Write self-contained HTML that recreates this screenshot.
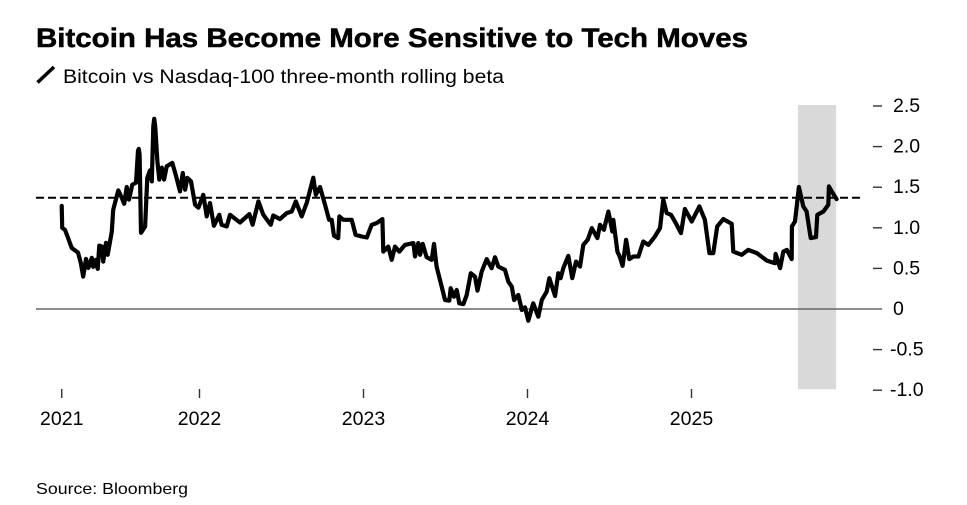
<!DOCTYPE html>
<html>
<head>
<meta charset="utf-8">
<style>
html,body{margin:0;padding:0;background:#fff;}
svg{display:block;font-family:"Liberation Sans",sans-serif;}
</style>
</head>
<body>
<svg id="chart" width="967" height="505" viewBox="0 0 967 505" xmlns="http://www.w3.org/2000/svg">
<rect width="967" height="505" fill="#fff"/>
<text x="36" y="47" font-size="27" font-weight="700" fill="#000" stroke="#000" stroke-width="0.5" textLength="712" lengthAdjust="spacingAndGlyphs">Bitcoin Has Become More Sensitive to Tech Moves</text>
<line x1="37.5" y1="82.5" x2="54" y2="67" stroke="#000" stroke-width="3.6"/>
<text x="63" y="83" font-size="19" fill="#000" textLength="441" lengthAdjust="spacingAndGlyphs">Bitcoin vs Nasdaq-100 three-month rolling beta</text>
<g id="plot"></g>
<text x="36" y="494" font-size="16" fill="#000" textLength="152" lengthAdjust="spacingAndGlyphs">Source: Bloomberg</text>
</svg>
<script>
const yearsSince2021 = [
0.160,0.163,0.180,0.198,0.221,0.259,0.276,0.291,0.308,0.322,0.343,0.352,0.367,0.379,0.389,0.404,0.413,0.430,0.440,0.465,
0.474,0.505,0.526,0.541,0.556,0.570,0.590,0.613,0.625,0.630,0.635,0.643,0.668,0.682,0.698,0.709,0.718,0.724,0.730,0.743,0.755,0.770,0.784,0.800,
0.834,0.855,0.881,0.898,0.912,0.926,0.948,0.973,0.993,1.023,1.044,1.064,1.088,1.121,1.135,1.166,1.186,1.247,1.304,1.324,
1.359,1.389,1.434,1.450,1.491,1.532,1.562,1.587,1.623,1.654,1.694,1.709,1.735,1.765,1.790,1.806,1.820,1.846,1.853,1.877,
1.928,1.952,1.989,2.020,2.050,2.080,2.115,2.121,2.151,2.172,2.192,2.218,2.253,2.304,2.314,2.334,2.345,2.361,2.385,2.416,
2.430,2.446,2.477,2.497,2.523,2.532,2.552,2.568,2.584,2.609,2.629,2.654,2.680,2.695,2.721,2.751,2.782,2.802,2.822,2.863,
2.883,2.904,2.918,2.944,2.965,2.985,3.005,3.035,3.066,3.087,3.117,3.133,3.168,3.188,3.202,3.218,3.249,3.273,3.296,3.320,
3.340,3.367,3.392,3.426,3.442,3.466,3.493,3.517,3.523,3.548,3.564,3.580,3.601,3.621,3.645,3.676,3.706,3.737,3.777,3.808,
3.828,3.849,3.875,3.904,3.936,3.960,4.001,4.048,4.082,4.109,4.133,4.157,4.194,4.245,4.255,4.306,4.346,4.398,4.459,4.509,
4.513,4.540,4.560,4.581,4.611,4.612,4.631,4.655,4.682,4.702,4.727,4.759,4.767,4.804,4.834,4.838,4.861,4.885
];
const betaValues = [
1.27,1.00,0.975,0.877,0.753,0.695,0.568,0.399,0.617,0.506,0.630,0.519,0.605,0.494,0.781,0.769,0.584,0.815,0.667,0.954,
1.222,1.460,1.370,1.296,1.502,1.346,1.531,1.556,1.950,1.972,1.900,0.938,1.016,1.617,1.707,1.572,2.250,2.342,2.250,1.819,1.593,1.741,1.593,1.757,
1.799,1.654,1.448,1.675,1.469,1.614,1.572,1.284,1.247,1.407,1.140,1.305,1.025,1.160,1.037,1.016,1.160,1.065,1.169,1.037,
1.325,1.160,1.037,1.152,1.107,1.181,1.201,1.325,1.140,1.309,1.617,1.407,1.502,1.284,1.099,1.099,0.901,0.873,1.140,1.099,
1.099,0.914,0.893,0.880,1.037,1.058,1.107,0.707,0.769,0.605,0.769,0.707,0.790,0.811,0.646,0.811,0.667,0.802,0.638,0.605,
0.802,0.522,0.275,0.111,0.102,0.256,0.152,0.235,0.070,0.062,0.173,0.441,0.399,0.226,0.460,0.614,0.502,0.638,0.522,0.481,
0.337,0.275,0.111,0.173,-0.012,0.021,-0.144,0.070,-0.095,0.111,0.214,0.379,0.160,0.441,0.379,0.502,0.654,0.379,0.584,0.522,
0.790,0.852,0.996,0.873,1.037,0.975,1.201,0.954,1.099,0.707,0.638,0.531,0.852,0.614,0.646,0.646,0.831,0.790,0.893,0.996,
1.346,1.181,1.160,1.058,0.935,1.231,1.078,1.263,1.099,0.688,0.688,1.016,1.107,1.049,0.707,0.667,0.728,0.688,0.596,0.564,
0.679,0.502,0.707,0.728,0.614,1.016,1.078,1.502,1.263,1.201,0.873,0.885,1.160,1.201,1.284,1.510,1.428,1.354
];
const xTickYears = [0.160,1,2,3,4];
const xTickLabels = ["2021","2022","2023","2024","2025"];
const yTickValues = [2.5,2.0,1.5,1.0,0.5,0,-0.5,-1.0];
const yTickLabels = ["2.5","2.0","1.5","1.0","0.5","0","-0.5","-1.0"];
const referenceBeta = 1.37;
const shadedRange = [4.655,4.882];

const SVGNS = "http://www.w3.org/2000/svg";
const plot = document.getElementById("plot");
const xScale = function (t) { return 199.5 + (t - 1) * 164; };
const yScale = function (v) { return 309 - v * 81.2; };

function make(tag, attrs, parent) {
  const el = document.createElementNS(SVGNS, tag);
  for (const k in attrs) el.setAttribute(k, attrs[k]);
  parent.appendChild(el);
  return el;
}

const band = make("rect", {
  x: xScale(shadedRange[0]) - 1,
  y: yScale(2.5) - 1,
  width: xScale(shadedRange[1]) - xScale(shadedRange[0]) + 1,
  height: yScale(-1) - yScale(2.5),
  fill: "#d9d9d9"
}, plot);



const zeroLine = make("line", {
  x1: 36, x2: 882, y1: yScale(0), y2: yScale(0),
  stroke: "#666", "stroke-width": 1.6
}, plot);



const refLine = make("line", {
  x1: 36, x2: 862, y1: yScale(referenceBeta), y2: yScale(referenceBeta),
  stroke: "#000", "stroke-width": 2, "stroke-dasharray": "8 4"
}, plot);



yTickValues.forEach(function (v, i) {
  const y = yScale(v);
  if (v !== 0) {
    const t = make("line", { x1: 873, x2: 882, y1: y, y2: y, stroke: "#333", "stroke-width": 1.4 }, plot);
    
    
  }
  const lbl = make("text", { x: v < 0 ? 890 : 893, y: y + 6, "font-size": 19.5, fill: "#000" }, plot);
  lbl.textContent = yTickLabels[i];
  
  
});

xTickYears.forEach(function (t, i) {
  const x = xScale(t);
  const m = make("line", { x1: x, x2: x, y1: 389, y2: 398, stroke: "#333", "stroke-width": 1.4 }, plot);
  
  
  const lbl = make("text", { x: x, y: 425, "font-size": 19.5, "text-anchor": "middle", fill: "#000" }, plot);
  lbl.textContent = xTickLabels[i];
  
  
});

const pts = yearsSince2021.map(function (t, i) {
  return xScale(t).toFixed(1) + "," + yScale(betaValues[i]).toFixed(1);
}).join(" ");
const series = make("polyline", {
  points: pts, fill: "none", stroke: "#000", "stroke-width": 4.2, "stroke-linejoin": "round", "stroke-linecap": "round"
}, plot);


</script>
</body>
</html>
